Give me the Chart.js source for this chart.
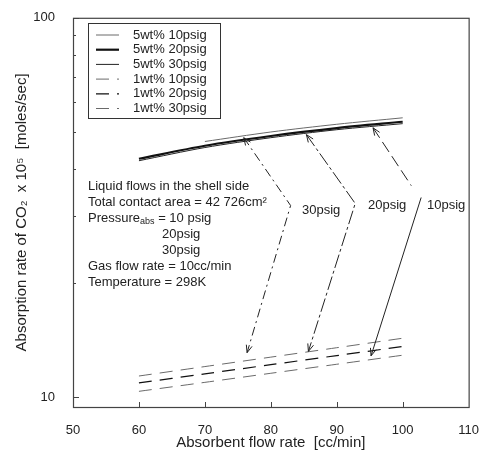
<!DOCTYPE html>
<html>
<head>
<meta charset="utf-8">
<script src="https://cdn.jsdelivr.net/npm/chart.js@4"></script>
<style>
  body { margin: 0; background: #fff; }
</style>
</head>
<body>
<canvas id="myChart" width="487" height="454"></canvas>
<script>
// absorbent flow rate [cc/min]
const flowRate = [60, 70, 80, 90, 100];
const flowRate10 = [70, 80, 90, 100];

// absorption rate of CO2 x 10^5 [moles/sec]
const abs5wt10 = [47.2, 50.0, 52.4, 54.5];
const abs5wt20 = [42.5, 46.0, 48.8, 51.2, 53.2];
const abs5wt30 = [42.0, 45.5, 48.3, 50.7, 52.6];
const abs1wt10 = [11.37, 12.04, 12.75, 13.5, 14.3];
const abs1wt20 = [10.9, 11.52, 12.18, 12.87, 13.6];
const abs1wt30 = [10.36, 10.94, 11.56, 12.21, 12.9];

const yTicks = [10, 100];
const yMinor = [20, 30, 40, 50, 60, 70, 80, 90];
const xTicks = [60, 70, 80, 90, 100];

// arrows linking 5wt% and 1wt% curves, in data units [flow, rate]
const arrow30 = [[75.9, 48.3], [83.0, 32.0], [76.4, 13.1]];
const arrow20 = [[85.4, 49.2], [92.8, 32.4], [85.7, 13.2]];
const arrow10a = [[95.5, 51.3], [101.3, 36.1]];
const arrow10b = [[102.8, 33.6], [95.2, 12.85]];

const FONT = "'Liberation Sans', Arial, sans-serif";
const GRAY = "#6a6a6a";

function pts(xs, ys) {
    return xs.map((v, i) => ({ x: v, y: ys[i] }));
}

function line(label, xs, ys, color, width, dash) {
    return {
        label: label,
        data: pts(xs, ys),
        borderColor: color,
        borderWidth: width,
        borderDash: dash,
        pointRadius: 0,
        fill: false,
        tension: 0.3,
    };
}

function arrowHead(ctx, x0, y0, x1, y1) {
    // open V head at (x1, y1)
    const a = Math.atan2(y1 - y0, x1 - x0);
    const len = 8, spread = 0.38;
    ctx.setLineDash([]);
    ctx.beginPath();
    ctx.moveTo(x1 - len * Math.cos(a - spread), y1 - len * Math.sin(a - spread));
    ctx.lineTo(x1, y1);
    ctx.lineTo(x1 - len * Math.cos(a + spread), y1 - len * Math.sin(a + spread));
    ctx.stroke();
}

function drawPath(ctx, x, y, path, dash, headStart, headEnd) {
    const p = path.map((d) => [x.getPixelForValue(d[0]), y.getPixelForValue(d[1])]);
    ctx.setLineDash(dash);
    ctx.beginPath();
    p.forEach((q, i) => (i ? ctx.lineTo(q[0], q[1]) : ctx.moveTo(q[0], q[1])));
    ctx.stroke();
    if (headStart) arrowHead(ctx, p[1][0], p[1][1], p[0][0], p[0][1]);
    if (headEnd) {
        const n = p.length;
        arrowHead(ctx, p[n - 2][0], p[n - 2][1], p[n - 1][0], p[n - 1][1]);
    }
}

const overlay = {
    id: "overlay",
    afterDatasetsDraw(chart) {
        const { ctx, chartArea: a, scales: { x, y } } = chart;
        ctx.save();

        // frame
        ctx.strokeStyle = "#444";
        ctx.lineWidth = 1.2;
        ctx.setLineDash([]);
        ctx.strokeRect(a.left + 0.5, a.top + 0.5, a.right - a.left, a.bottom - a.top);

        // inward ticks
        ctx.lineWidth = 1;
        ctx.beginPath();
        yTicks.forEach((v) => {
            const py = Math.round(y.getPixelForValue(v)) + 0.5;
            ctx.moveTo(a.left, py);
            ctx.lineTo(a.left + 6, py);
        });
        yMinor.forEach((v) => {
            const py = Math.round(y.getPixelForValue(v)) + 0.5;
            ctx.moveTo(a.left, py);
            ctx.lineTo(a.left + 3, py);
        });
        xTicks.forEach((v) => {
            const px = Math.round(x.getPixelForValue(v)) + 0.5;
            ctx.moveTo(px, a.bottom);
            ctx.lineTo(px, a.bottom - 5);
        });
        ctx.stroke();

        // arrows
        ctx.strokeStyle = "#222";
        ctx.lineWidth = 1;
        drawPath(ctx, x, y, arrow30, [9, 4, 2, 4], true, true);
        drawPath(ctx, x, y, arrow20, [14, 3, 3, 3], true, true);
        drawPath(ctx, x, y, arrow10a, [12, 5], true, false);
        drawPath(ctx, x, y, arrow10b, [], false, true);

        ctx.setLineDash([]);
        ctx.fillStyle = "#222";
        ctx.font = "13px " + FONT;
        ctx.textBaseline = "middle";
        ctx.textAlign = "left";
        ctx.fillText("30psig", 302, 210);
        ctx.fillText("20psig", 368, 205);
        ctx.fillText("10psig", 427, 205);

        // condition notes
        const tx = 88;
        ctx.fillText("Liquid flows in the shell side", tx, 186);
        ctx.fillText("Total contact area = 42 726cm\u00b2", tx, 202);
        ctx.fillText("Pressure", tx, 218);
        const w = ctx.measureText("Pressure").width;
        ctx.font = "9px " + FONT;
        ctx.fillText("abs", tx + w, 222);
        const w2 = ctx.measureText("abs").width;
        ctx.font = "13px " + FONT;
        ctx.fillText(" = 10 psig", tx + w + w2, 218);
        ctx.fillText("20psig", 162, 234);
        ctx.fillText("30psig", 162, 250);
        ctx.fillText("Gas flow rate = 10cc/min", tx, 266);
        ctx.fillText("Temperature = 298K", tx, 282);

        // legend box
        const lx = 88, ly = 23, lw = 132, lh = 95;
        ctx.fillStyle = "#fff";
        ctx.fillRect(lx, ly, lw, lh);
        ctx.strokeStyle = "#333";
        ctx.strokeRect(lx + 0.5, ly + 0.5, lw, lh);
        ctx.fillStyle = "#222";
        chart.data.datasets.forEach((ds, i) => {
            const yy = 35 + i * 14.7;
            ctx.strokeStyle = ds.borderColor;
            ctx.lineWidth = ds.borderWidth;
            ctx.setLineDash(ds.borderDash || []);
            ctx.beginPath();
            ctx.moveTo(96, yy);
            ctx.lineTo(119, yy);
            ctx.stroke();
            ctx.fillText(ds.label, 133, yy);
        });

        ctx.restore();
    },
};

new Chart(document.getElementById("myChart"), {
    type: "line",
    data: {
        datasets: [
            line("5wt% 10psig", flowRate10, abs5wt10, GRAY, 1, []),
            line("5wt% 20psig", flowRate, abs5wt20, "#111", 2.2, []),
            line("5wt% 30psig", flowRate, abs5wt30, "#222", 1, []),
            line("1wt% 10psig", flowRate, abs1wt10, GRAY, 1, [13, 8]),
            line("1wt% 20psig", flowRate, abs1wt20, "#111", 1.2, [13, 8]),
            line("1wt% 30psig", flowRate, abs1wt30, GRAY, 1, [13, 8]),
        ],
    },
    options: {
        responsive: false,
        animation: false,
        devicePixelRatio: 1,
        layout: { padding: { top: 11, right: 16, left: 0, bottom: 0 } },
        plugins: { legend: { display: false }, tooltip: { enabled: false } },
        scales: {
            x: {
                type: "linear",
                min: 50,
                max: 110,
                afterFit: (s) => { s.height = 47; },
                ticks: { stepSize: 10, padding: 8, color: "#222", font: { family: FONT, size: 13 } },
                grid: { display: false },
                border: { display: false },
                title: {
                    display: true,
                    text: "Absorbent flow rate  [cc/min]",
                    color: "#222",
                    font: { family: FONT, size: 15 },
                    padding: { top: 0, bottom: 2 },
                },
            },
            y: {
                type: "logarithmic",
                min: 9.42,
                max: 100,
                afterFit: (s) => { s.width = 73; },
                afterBuildTicks: (s) => { s.ticks = yTicks.map((v) => ({ value: v })); },
                ticks: {
                    padding: 10,
                    color: "#222",
                    font: { family: FONT, size: 13 },
                    callback: (v) => String(v),
                },
                grid: { display: false },
                border: { display: false },
                title: {
                    display: true,
                    text: "Absorption rate of CO\u2082  x 10\u2075  [moles/sec]",
                    color: "#222",
                    font: { family: FONT, size: 15 },
                    padding: { top: 13, bottom: 0 },
                },
            },
        },
    },
    plugins: [overlay],
});
</script>
</body>
</html>
